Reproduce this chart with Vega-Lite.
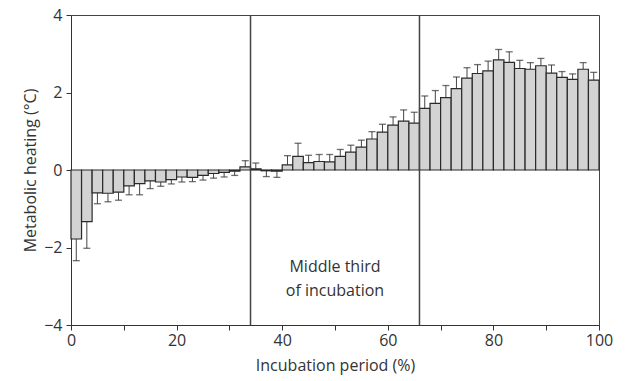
{
  "$schema": "https://vega.github.io/schema/vega-lite/v6.json",
  "width": 528,
  "height": 310,
  "autosize": "none",
  "padding": {"left": 71, "top": 15, "right": 26, "bottom": 56},
  "background": "white",
  "config": {
    "view": {"stroke": "#444", "strokeWidth": 1},
    "font": "Open Sans",
    "axis": {
      "domainColor": "#333", "tickColor": "#333", "labelColor": "#333", "titleColor": "#333",
      "labelFontSize": 16, "titleFontSize": 16, "titleFontWeight": "normal",
      "labelFont": "Open Sans", "titleFont": "Open Sans",
      "grid": false, "tickSize": 5, "domainWidth": 1, "tickWidth": 1
    }
  },
  "datasets": {
    "bars": [
      {"start": 0, "end": 2, "mid": 1, "heat": -1.78, "errEnd": -2.34},
      {"start": 2, "end": 4, "mid": 3, "heat": -1.33, "errEnd": -2.02},
      {"start": 4, "end": 6, "mid": 5, "heat": -0.59, "errEnd": -0.87},
      {"start": 6, "end": 8, "mid": 7, "heat": -0.60, "errEnd": -0.82},
      {"start": 8, "end": 10, "mid": 9, "heat": -0.57, "errEnd": -0.78},
      {"start": 10, "end": 12, "mid": 11, "heat": -0.41, "errEnd": -0.64},
      {"start": 12, "end": 14, "mid": 13, "heat": -0.35, "errEnd": -0.64},
      {"start": 14, "end": 16, "mid": 15, "heat": -0.28, "errEnd": -0.48},
      {"start": 16, "end": 18, "mid": 17, "heat": -0.31, "errEnd": -0.42},
      {"start": 18, "end": 20, "mid": 19, "heat": -0.25, "errEnd": -0.36},
      {"start": 20, "end": 22, "mid": 21, "heat": -0.18, "errEnd": -0.31},
      {"start": 22, "end": 24, "mid": 23, "heat": -0.19, "errEnd": -0.30},
      {"start": 24, "end": 26, "mid": 25, "heat": -0.14, "errEnd": -0.26},
      {"start": 26, "end": 28, "mid": 27, "heat": -0.09, "errEnd": -0.21},
      {"start": 28, "end": 30, "mid": 29, "heat": -0.06, "errEnd": -0.18},
      {"start": 30, "end": 32, "mid": 31, "heat": -0.03, "errEnd": -0.14},
      {"start": 32, "end": 34, "mid": 33, "heat": 0.08, "errEnd": 0.24},
      {"start": 34, "end": 36, "mid": 35, "heat": 0.03, "errEnd": 0.18},
      {"start": 36, "end": 38, "mid": 37, "heat": -0.02, "errEnd": -0.17},
      {"start": 38, "end": 40, "mid": 39, "heat": -0.03, "errEnd": -0.19},
      {"start": 40, "end": 42, "mid": 41, "heat": 0.13, "errEnd": 0.37},
      {"start": 42, "end": 44, "mid": 43, "heat": 0.35, "errEnd": 0.69},
      {"start": 44, "end": 46, "mid": 45, "heat": 0.19, "errEnd": 0.38},
      {"start": 46, "end": 48, "mid": 47, "heat": 0.22, "errEnd": 0.40},
      {"start": 48, "end": 50, "mid": 49, "heat": 0.21, "errEnd": 0.40},
      {"start": 50, "end": 52, "mid": 51, "heat": 0.35, "errEnd": 0.53},
      {"start": 52, "end": 54, "mid": 53, "heat": 0.46, "errEnd": 0.64},
      {"start": 54, "end": 56, "mid": 55, "heat": 0.59, "errEnd": 0.77},
      {"start": 56, "end": 58, "mid": 57, "heat": 0.80, "errEnd": 0.99},
      {"start": 58, "end": 60, "mid": 59, "heat": 0.98, "errEnd": 1.18},
      {"start": 60, "end": 62, "mid": 61, "heat": 1.16, "errEnd": 1.37},
      {"start": 62, "end": 64, "mid": 63, "heat": 1.26, "errEnd": 1.55},
      {"start": 64, "end": 66, "mid": 65, "heat": 1.21, "errEnd": 1.49},
      {"start": 66, "end": 68, "mid": 67, "heat": 1.59, "errEnd": 1.91},
      {"start": 68, "end": 70, "mid": 69, "heat": 1.72, "errEnd": 2.05},
      {"start": 70, "end": 72, "mid": 71, "heat": 1.87, "errEnd": 2.18},
      {"start": 72, "end": 74, "mid": 73, "heat": 2.10, "errEnd": 2.40},
      {"start": 74, "end": 76, "mid": 75, "heat": 2.37, "errEnd": 2.64},
      {"start": 76, "end": 78, "mid": 77, "heat": 2.49, "errEnd": 2.72},
      {"start": 78, "end": 80, "mid": 79, "heat": 2.56, "errEnd": 2.81},
      {"start": 80, "end": 82, "mid": 81, "heat": 2.84, "errEnd": 3.11},
      {"start": 82, "end": 84, "mid": 83, "heat": 2.78, "errEnd": 3.05},
      {"start": 84, "end": 86, "mid": 85, "heat": 2.62, "errEnd": 2.83},
      {"start": 86, "end": 88, "mid": 87, "heat": 2.60, "errEnd": 2.77},
      {"start": 88, "end": 90, "mid": 89, "heat": 2.69, "errEnd": 2.88},
      {"start": 90, "end": 92, "mid": 91, "heat": 2.50, "errEnd": 2.71},
      {"start": 92, "end": 94, "mid": 93, "heat": 2.39, "errEnd": 2.54},
      {"start": 94, "end": 96, "mid": 95, "heat": 2.34, "errEnd": 2.48},
      {"start": 96, "end": 98, "mid": 97, "heat": 2.60, "errEnd": 2.77},
      {"start": 98, "end": 100, "mid": 99, "heat": 2.32, "errEnd": 2.52}
    ],
    "thirds": [{"period": 34}, {"period": 66}],
    "note": [{"period": 50, "heat": -2.5, "label": ["Middle third", "of incubation"]}]
  },
  "layer": [
    {
      "data": {"name": "bars"},
      "mark": {"type": "rule", "color": "#444", "strokeWidth": 1},
      "encoding": {
        "x": {"field": "mid", "type": "quantitative", "title": "Incubation period (%)", "scale": {"domain": [0, 100], "nice": false},
          "axis": {"values": [0, 10, 20, 30, 40, 50, 60, 70, 80, 90, 100],
            "labelExpr": "datum.value % 20 == 0 ? datum.label : ''", "labelPadding": 2, "titlePadding": 9, "labelFlush": false}},
        "y": {"field": "heat", "type": "quantitative", "title": "Metabolic heating (°C)", "scale": {"domain": [-4, 4], "nice": false},
          "axis": {"values": [-4, -3, -2, -1, 0, 1, 2, 3, 4],
            "labelExpr": "datum.value % 2 == 0 ? datum.label : ''", "labelPadding": 4, "titlePadding": 5, "labelFlush": false}},
        "y2": {"field": "errEnd"}
      }
    },
    {
      "data": {"name": "bars"},
      "mark": {"type": "tick", "orient": "horizontal", "color": "#333", "size": 7, "thickness": 1.3},
      "encoding": {
        "x": {"field": "mid", "type": "quantitative", "title": "Incubation period (%)"},
        "y": {"field": "errEnd", "type": "quantitative", "title": "Metabolic heating (°C)"}
      }
    },
    {
      "data": {"name": "bars"},
      "mark": {"type": "bar", "fill": "#d3d3d3", "stroke": "#2a2a2a", "strokeWidth": 1.2},
      "encoding": {
        "x": {"field": "start", "type": "quantitative", "title": "Incubation period (%)"},
        "x2": {"field": "end"},
        "y": {"field": "heat", "type": "quantitative", "title": "Metabolic heating (°C)"},
        "y2": {"datum": 0}
      }
    },
    {
      "data": {"name": "thirds"},
      "mark": {"type": "rule", "color": "#444", "strokeWidth": 1.5},
      "encoding": {
        "x": {"field": "period", "type": "quantitative", "title": "Incubation period (%)"}
      }
    },
    {
      "data": {"name": "note"},
      "mark": {"type": "text", "fontSize": 16, "lineHeight": 24, "align": "center", "baseline": "middle", "color": "#333", "font": "Open Sans"},
      "encoding": {
        "x": {"field": "period", "type": "quantitative", "title": "Incubation period (%)"},
        "y": {"field": "heat", "type": "quantitative", "title": "Metabolic heating (°C)"},
        "text": {"field": "label"}
      }
    }
  ]
}
